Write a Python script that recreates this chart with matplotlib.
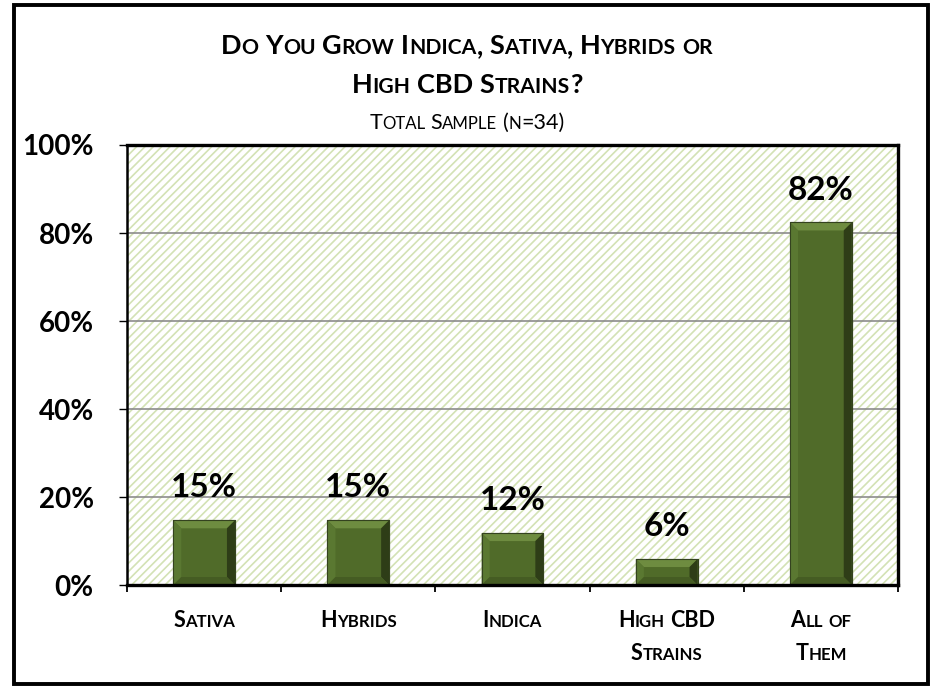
import matplotlib
matplotlib.use("Agg")
import matplotlib.pyplot as plt
from matplotlib.patches import Rectangle, Polygon
from matplotlib.transforms import IdentityTransform

categories = ["Sativa", "Hybrids", "Indica", "High CBD\nStrains", "All of\nThem"]
values = [14.7, 14.7, 11.8, 5.9, 82.4]
value_labels = ["15%", "15%", "12%", "6%", "82%"]
yticks = [0, 20, 40, 60, 80, 100]
ytick_labels = ["0%", "20%", "40%", "60%", "80%", "100%"]
title_lines = ["Do You Grow Indica, Sativa, Hybrids or", "High CBD Strains?"]
subtitle = "Total Sample (n=34)"

FONT = "Lato"
plt.rcParams["font.family"] = [FONT, "DejaVu Sans"]
plt.rcParams["hatch.linewidth"] = 1.2
plt.rcParams["hatch.color"] = "#d3e2b5"

W, H = 934, 687
fig = plt.figure(figsize=(W / 100, H / 100), dpi=100)
fig.patch.set_facecolor("white")

# outer frame
fig.patches.append(Rectangle((14 / W, 3 / H), (928 - 14) / W, (682 - 3) / H,
                             transform=fig.transFigure, fill=False,
                             edgecolor="black", linewidth=2.8, zorder=0))

L, R, T, B = 127, 898, 145, 585
ax = fig.add_axes([L / W, (H - B) / H, (R - L) / W, (B - T) / H])
ax.set_xlim(-0.5, len(categories) - 0.5)
ax.set_ylim(0, 100)

# hatched background
ax.add_patch(Rectangle((0, 0), 1, 1, transform=ax.transAxes, facecolor="white",
                       edgecolor="#d3e2b5", hatch="////", linewidth=0, zorder=0.1))

ax.set_axisbelow(True)
ax.yaxis.grid(True, color="#8c8c8c", linewidth=1.2)
ax.xaxis.grid(False)
ax.set_yticks(yticks)
ax.set_yticklabels(ytick_labels, fontsize=20, fontweight="bold", family=[FONT, "DejaVu Sans"])
ax.tick_params(axis="y", direction="out", length=6, width=1.0, pad=18, color="black")
ax.set_xticks([i - 0.5 for i in range(len(categories) + 1)])
ax.set_xticklabels([])
ax.tick_params(axis="x", direction="out", length=5, width=1.3, color="black")
for s in ax.spines.values():
    s.set_linewidth(2.4)
    s.set_color("black")
ax.spines["left"].set_linewidth(1.8)

x = list(range(len(categories)))
bw = 0.4
bars = ax.bar(x, values, width=bw, color="#506b29", edgecolor="#34421f",
              linewidth=0.8, zorder=2)

# bevel effect computed from the axes scale
inv = ax.transData.inverted()
p0 = inv.transform(ax.transData.transform((0, 0)))
dxy = inv.transform(ax.transData.transform((0, 0)) + [8, 8]) - p0
dx, dy = dxy
for rect in bars:
    x0 = rect.get_x(); x1 = x0 + rect.get_width(); h = rect.get_height()
    dyy = min(dy, h / 3)
    polys = [
        ([(x0, h), (x1, h), (x1 - dx, h - dyy), (x0 + dx, h - dyy)], "#6e8c40"),
        ([(x0, 0), (x0, h), (x0 + dx, h - dyy), (x0 + dx, dyy)], "#5a7831"),
        ([(x1, 0), (x1, h), (x1 - dx, h - dyy), (x1 - dx, dyy)], "#2e3d17"),
        ([(x0, 0), (x1, 0), (x1 - dx, dyy), (x0 + dx, dyy)], "#455c23"),
    ]
    for pts, c in polys:
        ax.add_patch(Polygon(pts, closed=True, facecolor=c, edgecolor="none", zorder=2.1))
    ax.add_patch(Rectangle((x0, 0), x1 - x0, h, facecolor="none", edgecolor="#34421f",
                           linewidth=0.8, zorder=2.2))

for xi, v, lab in zip(x, values, value_labels):
    ax.annotate(lab, (xi, v), xytext=(0, 16.5), textcoords="offset points",
                ha="center", va="baseline", fontsize=24, fontweight="bold",
                family=[FONT, "DejaVu Sans"], zorder=3)

renderer = fig.canvas.get_renderer()


def text_width(s, size, weight):
    t = fig.text(0, 0, s, fontsize=size, fontweight=weight, family=[FONT, "DejaVu Sans"],
                 transform=IdentityTransform())
    w = t.get_window_extent(renderer).width
    t.remove()
    return w


def small_caps(s, cx, by, size, weight, ratio=0.78):
    chunks = []
    for ch in s:
        if ch == " ":
            kind = "space"
        elif ch.islower():
            kind = "small"
        else:
            kind = "big"
        if chunks and chunks[-1][0] == kind:
            chunks[-1][1] += ch
        else:
            chunks.append([kind, ch])
    space_w = text_width("H H", size, weight) - text_width("HH", size, weight)
    widths = []
    for kind, txt in chunks:
        if kind == "space":
            widths.append(space_w * len(txt))
        elif kind == "small":
            widths.append(text_width(txt.upper(), size * ratio, weight))
        else:
            widths.append(text_width(txt, size, weight))
    total = sum(widths)
    xpos = cx - total / 2
    for (kind, txt), w in zip(chunks, widths):
        if kind != "space":
            sz = size * ratio if kind == "small" else size
            fig.text(xpos, by, txt.upper(), fontsize=sz, fontweight=weight,
                     family=[FONT, "DejaVu Sans"], ha="left", va="baseline",
                     transform=IdentityTransform())
        xpos += w


# titles (display coords: origin bottom-left)
small_caps(title_lines[0], W / 2, H - 54, 19.5, "bold")
small_caps(title_lines[1], W / 2, H - 93, 19.5, "bold")
small_caps(subtitle, W / 2, H - 129, 15.5, "normal")

# category labels
for xi, cat in zip(x, categories):
    cx = ax.transData.transform((xi, 0))[0]
    for j, line in enumerate(cat.split("\n")):
        small_caps(line, cx, H - 627 - 33 * j, 15.5, "bold")

fig.savefig("out.png", dpi=100)
